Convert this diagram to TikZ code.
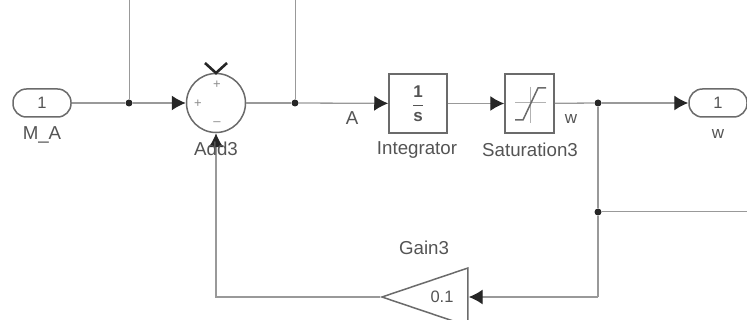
\documentclass[tikz,border=0pt]{standalone}
\usepackage{fontspec}
\setmainfont{Liberation Sans}
\usetikzlibrary{arrows.meta,shapes.geometric}
\definecolor{wirecol}{gray}{0.6}
\definecolor{blockcol}{gray}{0.42}
\definecolor{textcol}{gray}{0.33}
\tikzset{
  block/.style={draw=blockcol,line width=1.5pt,fill=white,inner sep=0pt,text=textcol,font=\fontsize{16.5}{18}\selectfont},
  port/.style={block,rectangle,rounded corners=13.4pt,minimum width=58pt,minimum height=28pt},
  wire/.style={draw=wirecol,line width=1.3pt},
  sig/.style={wire,-{Latex[length=14pt,width=15pt,color=black!85]}},
  dot/.style={circle,fill=black!85,inner sep=0pt,minimum size=7pt},
  lbl/.style={text=textcol,inner sep=0pt,font=\fontsize{18.7}{21}\selectfont},
  sign/.style={text=black!45,inner sep=0pt,font=\fontsize{13}{15}\selectfont}
}
\begin{document}
\begin{tikzpicture}[x=1pt,y=-1pt]
\useasboundingbox (0,0) rectangle (747,320);
\clip (0,0) rectangle (747,320);
\coordinate (topa) at (129,0);
\coordinate (topb) at (295,0);
\coordinate (tapout) at (747,212);
% blocks
\node[port] (inport) at (42,103) {1};
\node[circle,block,minimum size=59pt] (add) at (216,103) {};
\node[block,rectangle,minimum width=58pt,minimum height=59pt] (integ) at (418,103.5) {$\displaystyle\frac{\hbox{\fontsize{17}{19}\bfseries\selectfont 1}}{\hbox{\fontsize{17}{19}\bfseries\selectfont s}}$};
\node[block,rectangle,minimum width=49pt,minimum height=59pt] (sat) at (529.5,103.5) {};
\node[port] (outport) at (718,103) {1};
\node[block,isosceles triangle,shape border rotate=180,isosceles triangle stretches,minimum width=58pt,minimum height=86pt,anchor=apex] (gain) at (380,297) {};
\node[text=textcol,inner sep=0pt,font=\fontsize{16.5}{18}\selectfont] (gainval) at (442,297) {0.1};
% junctions
\node[dot] (ja) at (129,103) {};
\node[dot] (jb) at (295,103) {};
\node[dot] (jc) at (598,103) {};
\node[dot] (jd) at (598,212) {};
\coordinate (corner) at (598,297);
% wires
\draw[wire] (inport) -- (ja);
\draw[wire,line width=1pt] (ja) -- (topa);
\draw[sig] (ja) -- (add);
\draw[wire] (add) -- (jb);
\draw[wire,line width=1pt] (jb) -- (topb);
\draw[sig] (jb) -- (integ);
\draw[sig] (integ) -- (sat);
\draw[wire] (sat) -- (jc);
\draw[sig] (jc) -- (outport);
\draw[wire] (jc) -- (jd);
\draw[wire,line width=1pt] (jd) -- (tapout);
\draw[wire] (jd) -- (corner);
\draw[sig] (corner) -- (gain.east |- corner);
\draw[sig] (gain.apex) -| (add.south);
% add block marks
\draw[line width=2.6pt,black!85] (205,63) -- (216,73) -- (227,63);
\node[sign] (plusa) at (217,85) {+};
\node[sign] (plusb) at (198,104) {+};
\node[sign] (minus) at (217,124) {--};
% saturation icon
\draw[black!30,line width=1pt] (515,103) -- (546,103);
\draw[black!30,line width=1pt] (530,87) -- (530,123);
\draw[blockcol,line width=1.5pt] (515,120) -- (523,120) -- (538,88) -- (546,88);
% labels
\node[lbl] (inname) at (42,135) {M\_A};
\node[lbl] (addname) at (216,149) {Add3};
\node[lbl] (aname) at (352,118) {A};
\node[lbl,font=\fontsize{17}{19}\selectfont] (wname) at (571,119) {w};
\node[lbl] (intname) at (417,150) {Integrator};
\node[lbl] (satname) at (530,150) {Saturation3};
\node[lbl,font=\fontsize{17}{19}\selectfont] (outname) at (718,134) {w};
\node[lbl] (gainname) at (424,248) {Gain3};
\end{tikzpicture}
\end{document}
